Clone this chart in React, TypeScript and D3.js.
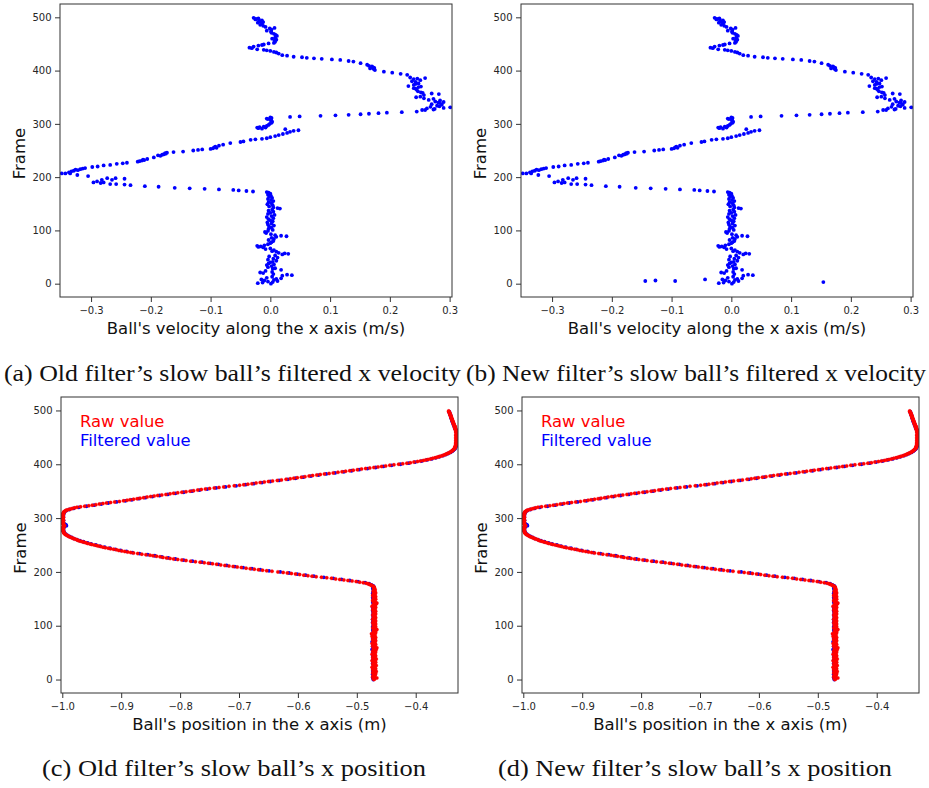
import React, { useEffect, useRef } from 'react';
import * as d3 from 'd3';

// Tick values
const velocityTicks = [-0.3, -0.2, -0.1, 0.0, 0.1, 0.2, 0.3];
const positionTicks = [-1.0, -0.9, -0.8, -0.7, -0.6, -0.5, -0.4];
const frameTicks = [0, 100, 200, 300, 400, 500];

// Old filter: filtered x velocity, [frame, m/s]
const oldVelocity: [number, number][] = [
  [0, 0.001], [1, -0.021], [2, -0.013], [3, 0.004], [4, -0.004], [5, 0.012], [6, -0.01], [7, 0.006], [8, -0.015], [9, 0.01],
  [10, 0.018], [11, -0.006], [13, 0.003], [15, 0.02], [16, 0.036], [17, 0.028], [18, 0.005], [20, -0.012], [21, -0.017], [22, 0.003],
  [24, -0.008], [26, 0.018], [28, 0.004], [29, 0.008], [31, -0.004], [33, 0.002], [35, -0.006], [36, 0.006], [38, -0.003], [40, 0.0],
  [41, 0.004], [43, 0.01], [45, -0.004], [47, 0.005], [49, 0.012], [51, -0.002], [53, 0.008], [55, 0.02], [56, 0.03], [57, 0.024],
  [58, 0.014], [60, 0.01], [61, 0.003], [63, 0.006], [65, -0.008], [66, 0.0], [68, -0.012], [69, -0.02], [70, -0.016], [71, -0.022],
  [72, -0.01], [74, -0.004], [76, 0.0], [78, 0.002], [80, 0.005], [82, -0.003], [84, 0.006], [86, 0.002], [88, 0.01], [89, 0.027],
  [90, 0.018], [91, 0.008], [93, 0.001], [95, -0.007], [97, -0.009], [99, -0.004], [101, 0.004], [103, -0.003], [105, 0.002], [107, -0.002],
  [109, 0.006], [111, -0.004], [113, 0.002], [115, -0.005], [117, 0.004], [119, 0.0], [121, -0.003], [123, 0.005], [125, -0.006], [127, 0.002],
  [129, 0.007], [131, -0.004], [133, 0.0], [135, 0.005], [137, -0.003], [139, 0.003], [141, 0.016], [142, 0.012], [143, 0.005], [145, -0.002],
  [147, 0.004], [149, -0.005], [151, 0.002], [153, -0.003], [155, 0.005], [157, 0.001], [159, -0.004], [161, 0.003], [163, -0.002], [165, 0.001],
  [167, -0.004], [169, 0.0], [171, -0.003], [172, -0.006],
  // leftward sweep
  [173, -0.029], [174, -0.04], [175, -0.053], [176, -0.062], [177, -0.086], [178, -0.11], [179, -0.135], [180, -0.16], [182, -0.187], [183, -0.21],
  [185, -0.234], [186, -0.244], [187, -0.258],
  [187, -0.268], [189, -0.284], [190, -0.296], [190, -0.279], [192, -0.29], [195, -0.282], [195, -0.265], [198, -0.273], [198, -0.259], [197, -0.244],
  [202, -0.305], [204, -0.323], [207, -0.343], [207, -0.349], [207, -0.335], [211, -0.333], [212, -0.329],
  // rising branch
  [209, -0.337], [213, -0.322], [214, -0.326], [215, -0.318], [216, -0.314], [217, -0.31], [219, -0.298], [220, -0.289], [222, -0.279], [223, -0.268],
  [225, -0.257], [226, -0.247], [227, -0.24], [229, -0.222], [230, -0.219], [231, -0.215], [232, -0.211], [233, -0.213], [234, -0.206], [237, -0.195],
  [240, -0.184], [241, -0.188], [242, -0.181], [243, -0.178], [244, -0.175], [245, -0.176], [246, -0.173], [247, -0.162], [248, -0.146], [250, -0.129],
  [251, -0.121], [252, -0.114], [253, -0.1], [254, -0.096], [255, -0.09], [256, -0.094], [257, -0.092], [259, -0.086], [261, -0.079], [264, -0.067],
  [266, -0.05], [267, -0.045], [270, -0.033], [271, -0.025], [272, -0.014], [273, -0.006], [275, 0.0], [277, 0.008], [279, 0.014], [281, 0.021],
  [283, 0.028], [285, 0.033], [287, 0.039], [288, 0.047], [290, 0.025],
  // small cluster near zero
  [291, -0.014], [292, -0.02], [293, -0.022], [293, -0.008], [294, -0.018], [295, -0.011], [296, -0.006], [298, -0.003], [300, -0.001], [302, 0.002],
  [304, 0.003], [306, 0.001], [308, 0.001], [309, -0.004], [310, -0.006], [311, 0.002], [312, 0.0],
  // jump to the right
  [313, 0.033], [314, 0.049], [315, 0.084], [316, 0.109], [317, 0.131], [318, 0.151], [319, 0.165], [320, 0.181], [321, 0.195], [322, 0.22],
  [323, 0.245], [326, 0.259], [327, 0.273], [330, 0.29], [331, 0.301],
  // right cluster
  [326, 0.254], [328, 0.275], [329, 0.262], [332, 0.268], [333, 0.283], [334, 0.279], [336, 0.287], [337, 0.27], [339, 0.284], [340, 0.281],
  [341, 0.29], [342, 0.276], [344, 0.284], [345, 0.265], [347, 0.273], [348, 0.257], [350, 0.244], [351, 0.251], [354, 0.257], [356, 0.282],
  [357, 0.27], [358, 0.255], [359, 0.252], [361, 0.247], [364, 0.245], [366, 0.243], [367, 0.24], [369, 0.248], [370, 0.252], [371, 0.231],
  [373, 0.24], [375, 0.243], [376, 0.248], [379, 0.243], [380, 0.237], [382, 0.251], [384, 0.24], [385, 0.246], [386, 0.259], [387, 0.234],
  [392, 0.229],
  // return run
  [394, 0.218], [396, 0.204], [398, 0.19], [401, 0.175], [403, 0.173], [404, 0.167], [405, 0.174], [406, 0.172], [408, 0.17], [409, 0.165],
  [411, 0.162], [414, 0.151], [417, 0.139], [418, 0.131], [420, 0.117], [421, 0.103], [422, 0.086], [423, 0.073], [424, 0.061], [425, 0.053],
  [426, 0.039], [428, 0.028], [429, 0.02], [432, 0.014], [434, 0.01], [435, 0.006], [437, 0.0], [438, -0.006], [439, -0.011], [440, -0.022],
  [442, -0.031], [443, -0.035], [445, -0.028], [447, -0.02], [448, -0.014], [449, -0.011], [451, -0.003], [452, 0.006],
  // top cluster
  [454, 0.008], [456, 0.007], [458, 0.01], [460, 0.003], [462, 0.008], [465, 0.011], [467, 0.009], [469, 0.006], [471, 0.002], [473, 0.001],
  [475, -0.006], [477, 0.002], [479, -0.001], [480, 0.007], [482, -0.008], [484, -0.012], [486, -0.017], [488, -0.014], [490, -0.021], [491, -0.012],
  [492, -0.017], [494, -0.014], [495, -0.019], [496, -0.025], [497, -0.024], [498, -0.02], [499, -0.028],
];

// New filter: the same track plus a few outliers at the very start
const newVelocityExtra: [number, number][] = [
  [5, -0.144], [6, -0.127], [5, -0.094], [8, -0.044], [3, 0.154],
];
const newVelocity = oldVelocity.concat(newVelocityExtra);

// Raw x position, one value per frame from frame 0
const rawPosition = [
  -0.471, -0.470, -0.472, -0.466, -0.469, -0.473, -0.471, -0.470, -0.472, -0.469,
  -0.471, -0.468, -0.473, -0.470, -0.472, -0.467, -0.471, -0.469, -0.473, -0.470,
  -0.468, -0.472, -0.470, -0.474, -0.469, -0.471, -0.467, -0.472, -0.470, -0.473,
  -0.469, -0.471, -0.468, -0.472, -0.470, -0.474, -0.469, -0.471, -0.467, -0.472,
  -0.470, -0.473, -0.469, -0.471, -0.468, -0.472, -0.470, -0.474, -0.469, -0.471,
  -0.472, -0.468, -0.471, -0.473, -0.469, -0.470, -0.467, -0.472, -0.470, -0.466,
  -0.471, -0.469, -0.473, -0.470, -0.472, -0.468, -0.471, -0.474, -0.469, -0.471,
  -0.470, -0.472, -0.468, -0.471, -0.473, -0.469, -0.470, -0.472, -0.468, -0.471,
  -0.474, -0.470, -0.471, -0.469, -0.472, -0.475, -0.470, -0.468, -0.471, -0.469,
  -0.472, -0.470, -0.467, -0.466, -0.471, -0.469, -0.473, -0.470, -0.468, -0.471,
  -0.469, -0.472, -0.470, -0.468, -0.471, -0.473, -0.469, -0.470, -0.472, -0.468,
  -0.471, -0.469, -0.473, -0.470, -0.471, -0.468, -0.472, -0.470, -0.469, -0.471,
  -0.473, -0.470, -0.468, -0.471, -0.469, -0.472, -0.470, -0.468, -0.471, -0.473,
  -0.469, -0.471, -0.470, -0.472, -0.468, -0.471, -0.474, -0.469, -0.470, -0.472,
  -0.468, -0.467, -0.466, -0.470, -0.472, -0.469, -0.471, -0.473, -0.470, -0.468,
  -0.471, -0.469, -0.472, -0.470, -0.468, -0.471, -0.473, -0.469, -0.470, -0.472,
  -0.470, -0.468, -0.471, -0.469, -0.472, -0.470, -0.471, -0.469, -0.470, -0.471,
  -0.470, -0.471,
  // frames 172-279
  -0.471, -0.472, -0.473, -0.475, -0.477, -0.479, -0.481, -0.484,
  -0.489, -0.495, -0.501, -0.508, -0.515, -0.522, -0.529, -0.536, -0.543, -0.551,
  -0.560, -0.569, -0.576, -0.583, -0.590, -0.597, -0.604, -0.611, -0.618, -0.625,
  -0.634, -0.644, -0.653, -0.660, -0.667, -0.674, -0.681, -0.688, -0.696, -0.703,
  -0.710, -0.717, -0.724, -0.731, -0.738, -0.745, -0.752, -0.759, -0.766, -0.774,
  -0.782, -0.790, -0.797, -0.804, -0.811, -0.817, -0.823, -0.829, -0.834, -0.840,
  -0.846, -0.851, -0.858, -0.865, -0.872, -0.879, -0.884, -0.889, -0.894, -0.899,
  -0.904, -0.908, -0.913, -0.918, -0.922, -0.927, -0.931, -0.935, -0.939, -0.942,
  -0.946, -0.950, -0.953, -0.957, -0.960, -0.963, -0.966, -0.969, -0.972, -0.974,
  -0.976, -0.979, -0.981, -0.983, -0.985, -0.987, -0.989, -0.991, -0.992, -0.994,
  -0.995, -0.996, -0.997, -0.997, -0.998, -0.998, -0.999, -0.999, -0.998, -0.999,
  // frames 280-311
  -0.999, -0.998, -1.000, -0.999, -0.998, -0.997, -0.996, -0.997, -0.998, -0.999,
  -0.999, -1.000, -0.998, -0.999, -0.999, -1.000, -0.998, -0.999, -0.999, -1.000,
  -0.999, -0.998, -0.999, -1.000, -0.999, -0.999, -0.998, -0.999, -0.999, -0.998,
  -0.998, -0.997,
  // frames 312-435
  -0.997, -0.995, -0.994, -0.992, -0.989, -0.986, -0.983, -0.979, -0.975, -0.969,
  -0.962, -0.955, -0.949, -0.943, -0.937, -0.931, -0.925, -0.918, -0.911, -0.903,
  -0.896, -0.890, -0.885, -0.879, -0.873, -0.868, -0.862, -0.856, -0.850, -0.844,
  -0.838, -0.831, -0.824, -0.817, -0.811, -0.804, -0.797, -0.790, -0.783, -0.777,
  -0.770, -0.764, -0.757, -0.750, -0.742, -0.734, -0.726, -0.717, -0.708, -0.699,
  -0.692, -0.685, -0.678, -0.671, -0.664, -0.657, -0.650, -0.643, -0.635, -0.628,
  -0.620, -0.613, -0.607, -0.601, -0.594, -0.588, -0.581, -0.575, -0.568, -0.562,
  -0.555, -0.547, -0.540, -0.532, -0.525, -0.519, -0.512, -0.506, -0.499, -0.492,
  -0.485, -0.478, -0.471, -0.464, -0.458, -0.451, -0.444, -0.437, -0.429, -0.422,
  -0.415, -0.409, -0.403, -0.397, -0.392, -0.387, -0.383, -0.379, -0.375, -0.371,
  -0.367, -0.364, -0.361, -0.358, -0.355, -0.352, -0.350, -0.348, -0.346, -0.344,
  -0.342, -0.341, -0.339, -0.338, -0.337, -0.336, -0.335, -0.334, -0.334, -0.333,
  -0.333, -0.333, -0.332, -0.332,
  // frames 436-499
  -0.332, -0.331, -0.332, -0.331, -0.332, -0.331, -0.330, -0.331, -0.332, -0.331,
  -0.331, -0.330, -0.331, -0.332, -0.331, -0.330, -0.331, -0.331, -0.332, -0.331,
  -0.331, -0.330, -0.331, -0.331, -0.332, -0.331, -0.331, -0.332, -0.332, -0.333,
  -0.332, -0.333, -0.333, -0.334, -0.333, -0.334, -0.335, -0.335, -0.335, -0.336,
  -0.336, -0.336, -0.337, -0.337, -0.337, -0.338, -0.338, -0.338, -0.339, -0.339,
  -0.339, -0.340, -0.340, -0.340, -0.341, -0.341, -0.341, -0.342, -0.342, -0.342,
  -0.343, -0.343, -0.344, -0.344,
];

// Filtered x position, one value every 2 frames from frame 0
const filteredStep = 2;
const filteredPosition = [
  -0.472, -0.471, -0.473, -0.472, -0.470, -0.473, -0.472, -0.471, -0.473, -0.472,
  -0.471, -0.473, -0.472, -0.470, -0.472, -0.473, -0.471, -0.472, -0.473, -0.471,
  -0.472, -0.470, -0.473, -0.472, -0.471, -0.473, -0.472, -0.471, -0.474, -0.472,
  -0.471, -0.473, -0.472, -0.470, -0.472, -0.474, -0.471, -0.472, -0.473, -0.471,
  -0.472, -0.473, -0.471, -0.472, -0.470, -0.472, -0.473, -0.471, -0.472, -0.473,
  -0.471, -0.472, -0.470, -0.473, -0.472, -0.471, -0.473, -0.472, -0.470, -0.472,
  -0.473, -0.471, -0.472, -0.470, -0.473, -0.472, -0.471, -0.473, -0.472, -0.471,
  -0.469, -0.472, -0.473, -0.471, -0.472, -0.470, -0.473, -0.472, -0.471, -0.472,
  -0.473, -0.471, -0.472, -0.471, -0.472, -0.473,
  // frames 172-278
  -0.471, -0.472, -0.475, -0.479, -0.486, -0.498, -0.512, -0.526, -0.540, -0.556,
  -0.573, -0.587, -0.601, -0.615, -0.630, -0.649, -0.664, -0.678, -0.693, -0.707,
  -0.721, -0.735, -0.749, -0.763, -0.779, -0.794, -0.808, -0.820, -0.831, -0.843,
  -0.855, -0.869, -0.881, -0.891, -0.901, -0.910, -0.919, -0.928, -0.936, -0.943,
  -0.951, -0.957, -0.964, -0.970, -0.975, -0.980, -0.984, -0.988, -0.991, -0.994,
  -0.996, -0.997, -0.998, -0.998,
  // frames 280-310
  -0.999, -0.998, -0.996, -0.993, -0.994, -0.997, -0.999, -0.999, -0.998, -0.999,
  -0.999, -0.998, -0.999, -0.998, -0.998, -0.997,
  // frames 312-434
  -0.996, -0.993, -0.988, -0.981, -0.972, -0.959, -0.946, -0.934, -0.922, -0.908,
  -0.893, -0.882, -0.870, -0.859, -0.847, -0.835, -0.821, -0.808, -0.794, -0.780,
  -0.767, -0.754, -0.739, -0.723, -0.705, -0.689, -0.675, -0.661, -0.647, -0.632,
  -0.617, -0.604, -0.591, -0.578, -0.565, -0.552, -0.537, -0.522, -0.509, -0.496,
  -0.482, -0.468, -0.455, -0.441, -0.426, -0.412, -0.401, -0.390, -0.381, -0.373,
  -0.366, -0.360, -0.354, -0.349, -0.345, -0.341, -0.338, -0.336, -0.334, -0.333,
  -0.332, -0.331,
  // frames 436-498
  -0.331, -0.330, -0.330, -0.329, -0.330, -0.329, -0.330, -0.329, -0.330, -0.330,
  -0.329, -0.330, -0.331, -0.331, -0.332, -0.333, -0.334, -0.334, -0.335, -0.336,
  -0.336, -0.337, -0.338, -0.338, -0.339, -0.340, -0.340, -0.341, -0.341, -0.342,
  -0.343, -0.343,
];

const captions = [
  { text: '(a) Old filter\u2019s slow ball\u2019s filtered x velocity', x: 4, y: 381, len: 457 },
  { text: '(b) New filter\u2019s slow ball\u2019s filtered x velocity', x: 466, y: 381, len: 460 },
  { text: '(c) Old filter\u2019s slow ball\u2019s x position', x: 42, y: 776, len: 384 },
  { text: '(d) New filter\u2019s slow ball\u2019s x position', x: 498, y: 776, len: 394 },
];

const SANS = '"DejaVu Sans", sans-serif';
const fmt = (d: number) => d3.format('.1f')(d).replace('-', '\u2212');

const App = () => {
  const svgRef = useRef<SVGSVGElement>(null);

  useEffect(() => {
    const svg = d3.select(svgRef.current);
    svg.selectAll('*').remove();

    const toPoints = (vals: number[], step: number) => vals.map((v, i) => [i * step, v] as [number, number]);

    const positionSeries = [
      { pts: toPoints(filteredPosition, filteredStep), color: '#0000ff', r: 1.9, halo: 'none' },
      { pts: toPoints(rawPosition, 1), color: '#ff0000', r: 1.75, halo: 'rgba(255,0,0,0.25)' },
    ];

    const panels = [
      { id: 'a', left: 60, top: 4, width: 392, height: 293, xDomain: [-0.352, 0.304], xTicks: velocityTicks,
        xLabel: "Ball's velocity along the x axis (m/s)", series: [{ pts: oldVelocity, color: '#0000ff', r: 1.9, halo: 'none' }], legend: false },
      { id: 'b', left: 521, top: 4, width: 392, height: 293, xDomain: [-0.352, 0.304], xTicks: velocityTicks,
        xLabel: "Ball's velocity along the x axis (m/s)", series: [{ pts: newVelocity, color: '#0000ff', r: 1.9, halo: 'none' }], legend: false },
      { id: 'c', left: 61, top: 397, width: 397, height: 296, xDomain: [-1.0022, -0.3282], xTicks: positionTicks,
        xLabel: "Ball's position in the x axis (m)", series: positionSeries, legend: true },
      { id: 'd', left: 522, top: 397, width: 397, height: 296, xDomain: [-1.0022, -0.3282], xTicks: positionTicks,
        xLabel: "Ball's position in the x axis (m)", series: positionSeries, legend: true },
    ];

    panels.forEach(p => {
      const x = d3.scaleLinear().domain(p.xDomain).range([p.left, p.left + p.width]);
      const y = d3.scaleLinear().domain([-25, 525]).range([p.top + p.height, p.top]);
      const g = svg.append('g');

      g.append('clipPath').attr('id', 'clip-' + p.id)
        .append('rect').attr('x', p.left).attr('y', p.top).attr('width', p.width).attr('height', p.height);

      const plot = g.append('g').attr('clip-path', `url(#clip-${p.id})`);
      p.series.forEach(s => {
        plot.selectAll(null)
          .data(s.pts)
          .enter()
          .append('circle')
          .attr('cx', d => x(d[1]))
          .attr('cy', d => y(d[0]))
          .attr('r', s.r)
          .attr('fill', s.color)
          .attr('stroke', s.halo)
          .attr('stroke-width', 0.9);
      });

      // Frame
      g.append('rect')
        .attr('x', p.left).attr('y', p.top).attr('width', p.width).attr('height', p.height)
        .attr('fill', 'none').attr('stroke', '#333').attr('stroke-width', 1);

      // X axis
      const xAxis = g.append('g')
        .attr('transform', `translate(0, ${p.top + p.height})`)
        .call(d3.axisBottom(x).tickValues(p.xTicks).tickFormat(fmt as any).tickSize(5).tickSizeOuter(0).tickPadding(4.4));
      xAxis.select('.domain').remove();
      xAxis.selectAll('line').attr('stroke', '#333');
      xAxis.selectAll('text').attr('fill', '#262626').style('font-family', SANS).style('font-size', '10px');

      // Y axis
      const yAxis = g.append('g')
        .attr('transform', `translate(${p.left}, 0)`)
        .call(d3.axisLeft(y).tickValues(frameTicks).tickSize(5).tickSizeOuter(0).tickPadding(3.5));
      yAxis.select('.domain').remove();
      yAxis.selectAll('line').attr('stroke', '#333');
      yAxis.selectAll('text').attr('fill', '#262626').style('font-family', SANS).style('font-size', '10px');

      // Axis labels
      g.append('text')
        .attr('x', p.left + p.width / 2)
        .attr('y', p.top + p.height + 36.5)
        .attr('text-anchor', 'middle')
        .style('font-family', SANS)
        .style('font-size', '16.5px')
        .attr('fill', '#111')
        .text(p.xLabel);

      g.append('text')
        .attr('transform', `translate(${p.left - 35}, ${p.top + p.height / 2 + 3}) rotate(-90)`)
        .attr('text-anchor', 'middle')
        .style('font-family', SANS)
        .style('font-size', '16.5px')
        .attr('fill', '#111')
        .text('Frame');

      if (p.legend) {
        g.append('text')
          .attr('x', p.left + 19).attr('y', p.top + 30)
          .style('font-family', SANS).style('font-size', '16.4px')
          .attr('fill', '#ff0000').text('Raw value');
        g.append('text')
          .attr('x', p.left + 19).attr('y', p.top + 49)
          .style('font-family', SANS).style('font-size', '16.4px')
          .attr('fill', '#0000ff').text('Filtered value');
      }
    });

    // Sub-figure captions
    captions.forEach(c => {
      svg.append('text')
        .attr('x', c.x).attr('y', c.y)
        .attr('textLength', c.len)
        .attr('lengthAdjust', 'spacingAndGlyphs')
        .style('font-family', '"Liberation Serif", serif')
        .style('font-size', '23.5px')
        .attr('fill', '#111')
        .text(c.text);
    });
  }, []);

  return (
    <svg
      ref={svgRef}
      width={929}
      height={788}
      style={{ position: 'absolute', left: 0, top: 0, background: '#fff', display: 'block' }}
    />
  );
};

export default App;
